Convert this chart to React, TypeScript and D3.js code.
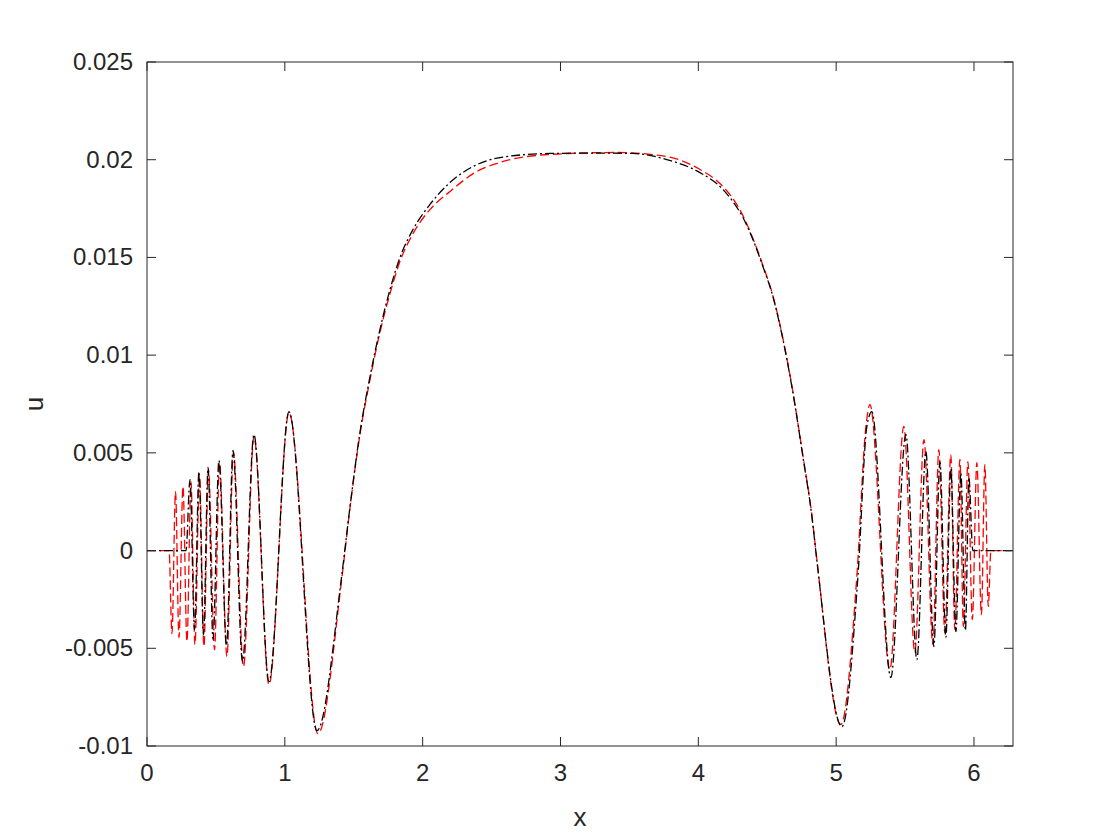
import React from "react";
import * as d3 from "d3";

// Black (dash-dot) series
const blackX = [0, 0.283, 0.312, 0.345, 0.377, 0.410, 0.443, 0.479, 0.522, 0.577, 0.624, 0.693, 0.776, 0.885, 1.030, 1.233, 1.412, 1.473, 1.545, 1.618, 1.690, 1.763, 1.835, 1.930, 2.053, 2.198, 2.379, 2.561, 2.923, 3.286, 3.526, 3.772, 4.012, 4.157, 4.251, 4.324, 4.396, 4.469, 4.541, 4.614, 4.686, 4.759, 4.824, 4.860, 5.042, 5.158, 5.223, 5.259, 5.397, 5.506, 5.586, 5.651, 5.709, 5.753, 5.796, 5.832, 5.869, 5.905, 5.938, 5.963, 5.992, 6.283];
const blackY = [0, 0, 0.00363, -0.00404, 0.00404, -0.00430, 0.00425, -0.00455, 0.00461, -0.00486, 0.00512, -0.00568, 0.00594, -0.00670, 0.00711, -0.00921, -0.00133, 0.00225, 0.00604, 0.00890, 0.01131, 0.01336, 0.01499, 0.01643, 0.01771, 0.01883, 0.01970, 0.02011, 0.02032, 0.02034, 0.02032, 0.02001, 0.01934, 0.01863, 0.01786, 0.01704, 0.01592, 0.01453, 0.01300, 0.01080, 0.00809, 0.00480, 0.00175, -0.00050, -0.00901, -0.00133, 0.00635, 0.00711, -0.00650, 0.00594, -0.00558, 0.00507, -0.00491, 0.00455, -0.00445, 0.00420, -0.00415, 0.00399, -0.00409, 0.00374, 0, 0];

// Red (dashed) series
const redX = [0, 0.160, 0.181, 0.207, 0.232, 0.261, 0.290, 0.319, 0.348, 0.381, 0.413, 0.446, 0.490, 0.526, 0.580, 0.627, 0.700, 0.776, 0.885, 1.030, 1.240, 1.415, 1.473, 1.545, 1.618, 1.690, 1.763, 1.835, 1.930, 2.053, 2.198, 2.379, 2.561, 2.923, 3.409, 3.772, 4.012, 4.157, 4.251, 4.324, 4.396, 4.469, 4.541, 4.614, 4.686, 4.759, 4.824, 4.860, 5.034, 5.150, 5.216, 5.245, 5.390, 5.491, 5.571, 5.637, 5.702, 5.745, 5.789, 5.832, 5.861, 5.898, 5.923, 5.956, 5.988, 6.021, 6.054, 6.079, 6.104, 6.123, 6.283];
const redY = [0, 0, -0.00425, 0.00302, -0.00445, 0.00328, -0.00466, 0.00353, -0.00481, 0.00384, -0.00491, 0.00415, -0.00507, 0.00450, -0.00542, 0.00502, -0.00594, 0.00583, -0.00686, 0.00706, -0.00937, -0.00133, 0.00220, 0.00594, 0.00875, 0.01116, 0.01315, 0.01479, 0.01622, 0.01745, 0.01837, 0.01934, 0.01986, 0.02027, 0.02037, 0.02016, 0.01950, 0.01878, 0.01801, 0.01714, 0.01597, 0.01459, 0.01305, 0.01085, 0.00814, 0.00485, 0.00180, -0.00045, -0.00890, -0.00133, 0.00635, 0.00747, -0.00609, 0.00635, -0.00522, 0.00568, -0.00481, 0.00517, -0.00420, 0.00491, -0.00404, 0.00466, -0.00389, 0.00455, -0.00353, 0.00450, -0.00328, 0.00440, -0.00287, 0, 0];

const xTicks = [0, 1, 2, 3, 4, 5, 6];
const yTicks = [-0.01, -0.005, 0, 0.005, 0.01, 0.015, 0.02, 0.025];
const yTickLabels = ["-0.01", "-0.005", "0", "0.005", "0.01", "0.015", "0.02", "0.025"];

const W = 1120, H = 840;
const L = 147, R = 1013, T = 62, B = 746;
const AX = "#262626";
const FONT = "Arial, 'Liberation Sans', Helvetica, sans-serif";

export default function App() {
  const x = d3.scaleLinear().domain([0, 2 * Math.PI]).range([L, R]);
  const y = d3.scaleLinear().domain([-0.01, 0.025]).range([B, T]);
  const line = d3
    .line<[number, number]>()
    .x((d) => x(d[0]))
    .y((d) => y(d[1]))
    .curve(d3.curveMonotoneX);
  const blackPts = blackX.map((v, i) => [v, blackY[i]] as [number, number]);
  const redPts = redX.map((v, i) => [v, redY[i]] as [number, number]);
  const tl = 9;
  return (
    <svg width={W} height={H} style={{ position: "absolute", left: 0, top: 0, background: "#fff" }}>
      <rect x={0} y={0} width={W} height={H} fill="#fff" />
      <defs>
        <clipPath id="clip">
          <rect x={L} y={T} width={R - L} height={B - T} />
        </clipPath>
      </defs>
      <g clipPath="url(#clip)">
        <path d={line(redPts) || ""} fill="none" stroke="#ff0000" strokeWidth={1.3} strokeDasharray="9,4" />
        <path d={line(blackPts) || ""} fill="none" stroke="#000" strokeWidth={1.3} strokeDasharray="9,3,2,3" />
      </g>
      <rect x={L} y={T} width={R - L} height={B - T} fill="none" stroke={AX} strokeWidth={1} />
      {xTicks.map((t) => (
        <g key={"x" + t}>
          <line x1={x(t)} x2={x(t)} y1={B} y2={B - tl} stroke={AX} />
          <line x1={x(t)} x2={x(t)} y1={T} y2={T + tl} stroke={AX} />
          <text x={x(t)} y={B + 35} textAnchor="middle" fontFamily={FONT} fontSize={24} fill={AX}>
            {t}
          </text>
        </g>
      ))}
      {yTicks.map((t, i) => (
        <g key={"y" + i}>
          <line x1={L} x2={L + tl} y1={y(t)} y2={y(t)} stroke={AX} />
          <line x1={R} x2={R - tl} y1={y(t)} y2={y(t)} stroke={AX} />
          <text x={L - 14} y={y(t) + 8} textAnchor="end" fontFamily={FONT} fontSize={24} fill={AX}>
            {yTickLabels[i]}
          </text>
        </g>
      ))}
      <text x={(L + R) / 2} y={826} textAnchor="middle" fontFamily={FONT} fontSize={26} fill={AX}>
        x
      </text>
      <text transform={`translate(43, ${(T + B) / 2}) rotate(-90)`} textAnchor="middle" fontFamily={FONT} fontSize={26} fill={AX}>
        u
      </text>
    </svg>
  );
}
